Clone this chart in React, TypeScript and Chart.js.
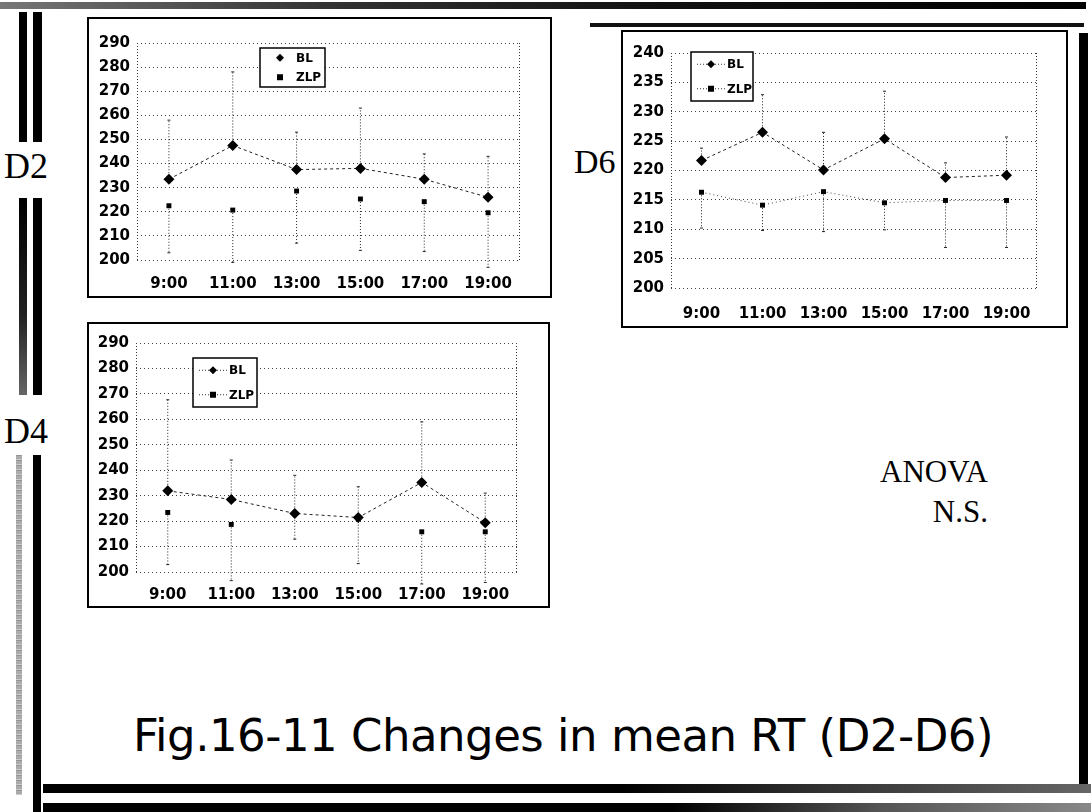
import React, { useEffect, useRef } from "react";
import { Chart, registerables } from "chart.js";

Chart.register(...registerables);

// Measurement times (x categories)
const HOURS = ["9:00", "11:00", "13:00", "15:00", "17:00", "19:00"];

// D2 — mean RT (ms) and SD bars (BL drawn upward, ZLP downward)
const D2_BL = [233.5, 247.5, 237.5, 238, 233.5, 226];
const D2_BL_SD = [24.5, 30.5, 15.5, 25, 10.5, 17];
const D2_ZLP = [222.5, 220.7, 228.6, 225.3, 224.2, 219.6];
const D2_ZLP_SD = [19.5, 21.7, 21.6, 21.3, 20.7, 22.6];

// D4
const D4_BL = [231.9, 228.5, 223, 221.4, 235.2, 219.4];
const D4_BL_SD = [35.8, 15.5, 15, 12.1, 23.8, 11.6];
const D4_ZLP = [223.4, 218.7, 222.9, 221, 215.8, 215.8];
const D4_ZLP_SD = [20.5, 22.1, 10, 17.7, 20.5, 19.9];

// D6
const D6_BL = [221.7, 226.5, 220.1, 225.4, 218.8, 219.2];
const D6_BL_SD = [2.1, 6.4, 6.4, 8.1, 2.5, 6.5];
const D6_ZLP = [216.3, 214.1, 216.4, 214.5, 214.9, 214.9];
const D6_ZLP_SD = [6.1, 4.3, 6.8, 4.6, 8.0, 8.0];

// y-axis ranges
const Y_RANGE_WIDE = { min: 200, max: 290, step: 10 };
const Y_RANGE_NARROW = { min: 200, max: 240, step: 5 };

const TICK_FONT = { family: "'DejaVu Sans', Verdana, sans-serif", size: 15, weight: "bold" as const };

// Vertical dotted SD bars, one direction per series
const errorBarPlugin = {
  id: "errorBars",
  beforeDatasetsDraw(chart: any) {
    const { ctx } = chart;
    const yScale = chart.scales.y;
    chart.data.datasets.forEach((ds: any, i: number) => {
      const meta = chart.getDatasetMeta(i);
      meta.data.forEach((pt: any, j: number) => {
        const end = ds.data[j] + ds.sdDir * ds.sd[j];
        const ey = yScale.getPixelForValue(end);
        ctx.save();
        ctx.strokeStyle = "#222";
        ctx.lineWidth = 1;
        ctx.setLineDash([1, 2]);
        ctx.beginPath();
        ctx.moveTo(pt.x, pt.y);
        ctx.lineTo(pt.x, ey);
        ctx.stroke();
        ctx.setLineDash([]);
        ctx.beginPath();
        ctx.moveTo(pt.x - 1.5, ey);
        ctx.lineTo(pt.x + 1.5, ey);
        ctx.stroke();
        ctx.restore();
      });
    });
  },
};

// Dotted left/right frame of the plot area
const framePlugin = {
  id: "plotFrame",
  beforeDraw(chart: any) {
    const { ctx, chartArea: a } = chart;
    ctx.save();
    ctx.strokeStyle = "#333";
    ctx.lineWidth = 1;
    ctx.setLineDash([1, 2]);
    ctx.beginPath();
    ctx.moveTo(a.left + 0.5, a.top);
    ctx.lineTo(a.left + 0.5, a.bottom);
    ctx.moveTo(a.right - 0.5, a.top);
    ctx.lineTo(a.right - 0.5, a.bottom);
    ctx.stroke();
    ctx.restore();
  },
};

// Boxed legend placed inside the plot area
const boxLegendPlugin = {
  id: "boxLegend",
  afterDraw(chart: any, _args: any, opts: any) {
    const { ctx, chartArea: a } = chart;
    const x = a.left + opts.x;
    const y = a.top + opts.y;
    const w = opts.w;
    const h = opts.h;
    ctx.save();
    ctx.fillStyle = "#fff";
    ctx.fillRect(x, y, w, h);
    ctx.strokeStyle = "#000";
    ctx.lineWidth = 1.5;
    ctx.setLineDash([]);
    ctx.strokeRect(x, y, w, h);
    const rows = chart.data.datasets;
    rows.forEach((ds: any, i: number) => {
      const cy = y + h * (i + 0.5) / rows.length;
      const mx = x + 20;
      if (opts.lines) {
        ctx.strokeStyle = "#333";
        ctx.lineWidth = 1;
        ctx.setLineDash([1, 2]);
        ctx.beginPath();
        ctx.moveTo(x + 6, cy);
        ctx.lineTo(x + 34, cy);
        ctx.stroke();
        ctx.setLineDash([]);
      }
      ctx.fillStyle = "#000";
      if (ds.pointStyle === "rectRot") {
        ctx.beginPath();
        ctx.moveTo(mx, cy - 4);
        ctx.lineTo(mx + 4, cy);
        ctx.lineTo(mx, cy + 4);
        ctx.lineTo(mx - 4, cy);
        ctx.closePath();
        ctx.fill();
      } else {
        ctx.fillRect(mx - 3, cy - 3, 6, 6);
      }
      ctx.font = "bold 12px 'DejaVu Sans', sans-serif";
      ctx.textBaseline = "middle";
      ctx.textAlign = "left";
      ctx.fillText(ds.label, x + 36, cy + 1);
    });
    ctx.restore();
  },
};

type PanelProps = {
  left: number;
  top: number;
  width: number;
  height: number;
  yAxisWidth: number;
  xAxisHeight: number;
  padTop: number;
  padRight: number;
  xPad: number;
  range: { min: number; max: number; step: number };
  bl: number[];
  blSd: number[];
  zlp: number[];
  zlpSd: number[];
  zlpLine: boolean;
  legend: { x: number; y: number; w: number; h: number; lines: boolean };
};

function Panel(p: PanelProps) {
  const ref = useRef<HTMLCanvasElement | null>(null);
  const innerW = p.width - 4;
  const innerH = p.height - 4;

  useEffect(() => {
    if (!ref.current) return;
    const chart = new Chart(ref.current, {
      type: "line",
      data: {
        labels: HOURS,
        datasets: [
          {
            label: "BL",
            data: p.bl,
            sd: p.blSd,
            sdDir: 1,
            borderColor: "#222",
            borderWidth: 1,
            borderDash: [3, 3],
            pointStyle: "rectRot",
            pointRadius: 5.5,
            pointBackgroundColor: "#000",
            pointBorderColor: "#000",
            pointBorderWidth: 0,
            tension: 0,
          } as any,
          {
            label: "ZLP",
            data: p.zlp,
            sd: p.zlpSd,
            sdDir: -1,
            showLine: p.zlpLine,
            borderColor: "#444",
            borderWidth: 1,
            borderDash: [1, 3],
            pointStyle: "rect",
            pointRadius: 3.5,
            pointBackgroundColor: "#000",
            pointBorderColor: "#000",
            pointBorderWidth: 0,
            tension: 0,
          } as any,
        ],
      },
      options: {
        animation: false,
        responsive: false,
        maintainAspectRatio: false,
        layout: { padding: { top: p.padTop, right: p.padRight, left: 0, bottom: 0 } },
        plugins: {
          legend: { display: false },
          tooltip: { enabled: false },
          boxLegend: p.legend,
        } as any,
        scales: {
          x: {
            type: "category",
            offset: true,
            grid: { display: false, drawTicks: false },
            border: { display: false },
            ticks: { color: "#000", font: TICK_FONT, padding: p.xPad, maxRotation: 0, autoSkip: false },
            afterFit: (s: any) => {
              s.height = p.xAxisHeight;
            },
          },
          y: {
            min: p.range.min,
            max: p.range.max,
            grid: { color: "#3a3a3a", lineWidth: 1, drawTicks: false },
            border: { display: false, dash: [1, 3] },
            ticks: { stepSize: p.range.step, color: "#000", font: TICK_FONT, padding: 7 },
            afterFit: (s: any) => {
              s.width = p.yAxisWidth;
            },
          },
        },
      },
      plugins: [framePlugin, errorBarPlugin, boxLegendPlugin],
    });
    return () => chart.destroy();
  }, []);

  return (
    <div
      style={{
        position: "absolute",
        left: p.left,
        top: p.top,
        width: p.width,
        height: p.height,
        border: "2px solid #000",
        boxSizing: "border-box",
        background: "#fff",
      }}
    >
      <canvas ref={ref} width={innerW} height={innerH} style={{ display: "block", width: innerW, height: innerH }} />
    </div>
  );
}

const bar = (l: number, t: number, w: number, h: number, bg: string): React.CSSProperties => ({
  position: "absolute",
  left: l,
  top: t,
  width: w,
  height: h,
  background: bg,
});

const serif = "'Liberation Serif', 'Times New Roman', serif";

export default function App() {
  return (
    <div
      style={{
        position: "absolute",
        left: 0,
        top: 0,
        width: 1091,
        height: 812,
        background: "#fff",
        overflow: "hidden",
      }}
    >
      {/* frame rules */}
      <div style={bar(0, 2, 1086, 7, "linear-gradient(90deg, #777 0%, #333 30%, #111 60%, #000 100%)")} />
      <div style={bar(590, 23, 494, 4, "#111")} />
      <div style={bar(19, 12, 8, 130, "#000")} />
      <div style={bar(33, 12, 9, 130, "#000")} />
      <div style={bar(19, 198, 8, 197, "linear-gradient(180deg, #000 0%, #222 60%, #666 100%)")} />
      <div style={bar(33, 198, 9, 197, "#000")} />
      <div style={bar(16, 455, 6, 340, "repeating-linear-gradient(180deg, #888 0px, #bbb 2px, #999 3px, #ddd 5px)")} />
      <div style={bar(33, 455, 8, 357, "#000")} />
      <div style={bar(1079, 33, 9, 754, "#000")} />
      <div style={bar(43, 784, 1048, 9, "linear-gradient(90deg, #000 0%, #000 55%, #333 75%, #666 100%)")} />
      <div style={bar(43, 803, 1048, 9, "linear-gradient(90deg, #000 0%, #000 60%, #555 80%, #888 100%)")} />

      <Panel
        left={87}
        top={17}
        width={465}
        height={281}
        yAxisWidth={48}
        xAxisHeight={36}
        padTop={24}
        padRight={30}
        xPad={15}
        range={Y_RANGE_WIDE}
        bl={D2_BL}
        blSd={D2_BL_SD}
        zlp={D2_ZLP}
        zlpSd={D2_ZLP_SD}
        zlpLine={false}
        legend={{ x: 123, y: 5, w: 65, h: 39, lines: false }}
      />
      <Panel
        left={621}
        top={30}
        width={447}
        height={298}
        yAxisWidth={48}
        xAxisHeight={38}
        padTop={21}
        padRight={29}
        xPad={17}
        range={Y_RANGE_NARROW}
        bl={D6_BL}
        blSd={D6_BL_SD}
        zlp={D6_ZLP}
        zlpSd={D6_ZLP_SD}
        zlpLine={true}
        legend={{ x: 20, y: -1, w: 62, h: 49, lines: true }}
      />
      <Panel
        left={87}
        top={322}
        width={463}
        height={286}
        yAxisWidth={47}
        xAxisHeight={34}
        padTop={19}
        padRight={31}
        xPad={14}
        range={Y_RANGE_WIDE}
        bl={D4_BL}
        blSd={D4_BL_SD}
        zlp={D4_ZLP}
        zlpSd={D4_ZLP_SD}
        zlpLine={false}
        legend={{ x: 57, y: 15, w: 64, h: 49, lines: true }}
      />

      {/* day labels */}
      <div style={{ position: "absolute", left: 4, top: 146, font: `36px ${serif}`, color: "#000", lineHeight: "40px" }}>D2</div>
      <div style={{ position: "absolute", left: 4, top: 411, font: `36px ${serif}`, color: "#000", lineHeight: "40px" }}>D4</div>
      <div style={{ position: "absolute", left: 574, top: 142, font: `34px ${serif}`, color: "#000", lineHeight: "40px" }}>D6</div>

      {/* statistics note */}
      <div
        style={{
          position: "absolute",
          left: 860,
          top: 452,
          width: 128,
          textAlign: "right",
          font: `31px ${serif}`,
          lineHeight: "40px",
          color: "#000",
        }}
      >
        <div>ANOVA</div>
        <div>N.S.</div>
      </div>

      {/* figure caption */}
      <div
        style={{
          position: "absolute",
          left: 133,
          top: 708,
          font: "45px 'DejaVu Sans', Verdana, sans-serif",
          lineHeight: "56px",
          color: "#000",
          whiteSpace: "nowrap",
          letterSpacing: "-0.5px",
        }}
      >
        Fig.16-11 Changes in mean RT (D2-D6)
      </div>
    </div>
  );
}
